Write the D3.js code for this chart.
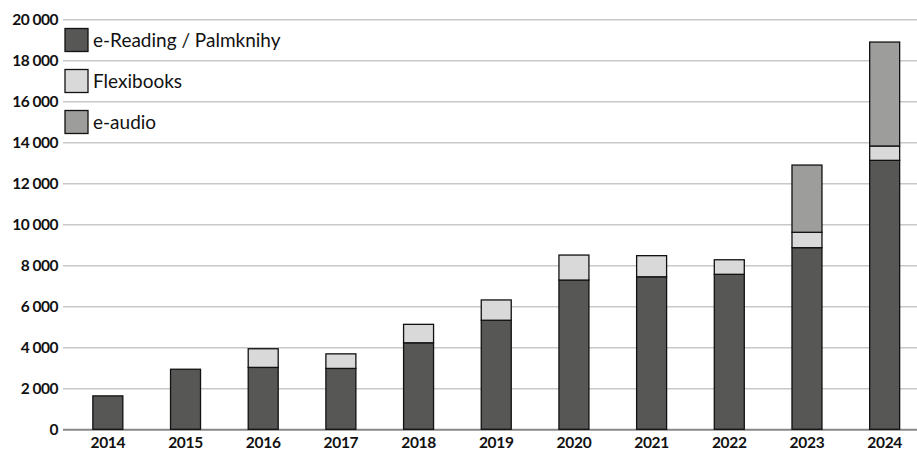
<!DOCTYPE html>
<html>
<head>
<meta charset="utf-8">
<script src="https://cdn.jsdelivr.net/npm/d3@7"></script>
<style>
  body { margin: 0; background: #fff; }
  svg { display: block; font-family: Lato, sans-serif; }
</style>
</head>
<body>
<script>
// data
var years = ["2014", "2015", "2016", "2017", "2018", "2019", "2020", "2021", "2022", "2023", "2024"];
var eReading = [1630, 2930, 3020, 2970, 4220, 5320, 7280, 7440, 7560, 8860, 13120];
var flexibooks = [0, 0, 910, 710, 900, 990, 1220, 1030, 710, 750, 700];
var eAudio = [0, 0, 0, 0, 0, 0, 0, 0, 0, 3280, 5070];
var seriesNames = ["e-Reading / Palmknihy", "Flexibooks", "e-audio"];
var seriesColors = ["#575755", "#d9d9d9", "#9d9d9b"];
var yTicks = [0, 2000, 4000, 6000, 8000, 10000, 12000, 14000, 16000, 18000, 20000];

var width = 917, height = 451;

var svg = d3.select("body").append("svg")
    .attr("width", width)
    .attr("height", height);

var x = d3.scaleBand()
    .domain(years)
    .range([69, 923.5])
    .paddingInner(0.614)
    .paddingOuter(0.307);

var y = d3.scaleLinear()
    .domain([0, 20000])
    .range([429.3, 19.3]);

var fmt = function(v) {
    return d3.format(",")(v).replace(/,/g, " ");
};

// grid lines + y labels
var yAxis = svg.append("g")
    .attr("transform", "translate(63,0)")
    .call(d3.axisLeft(y).tickValues(yTicks).tickFormat(fmt).tickSize(0).tickPadding(5));
yAxis.select(".domain").remove();
yAxis.selectAll("text")
    .attr("font-family", "Lato, sans-serif")
    .attr("font-size", 15.5)
    .attr("font-weight", "bold")
    .attr("letter-spacing", "-0.5")
    .attr("fill", "#111");
yAxis.selectAll(".tick").append("line")
    .attr("x1", 0)
    .attr("x2", width - 63)
    .attr("stroke", function(d) { return d === 0 ? "#888" : "#c8c8c8"; })
    .attr("stroke-width", function(d) { return d === 0 ? 2 : 1.5; });

// stack
var rows = years.map(function(yr, i) {
    return { year: yr, a: eReading[i], b: flexibooks[i], c: eAudio[i] };
});
var stack = d3.stack().keys(["a", "b", "c"]);
var layers = stack(rows);

svg.append("g").selectAll("g")
    .data(layers)
    .join("g")
    .attr("fill", function(d, i) { return seriesColors[i]; })
    .selectAll("rect")
    .data(function(d) { return d.filter(function(p) { return p[1] > p[0]; }); })
    .join("rect")
    .attr("x", function(d) { return x(d.data.year); })
    .attr("width", x.bandwidth())
    .attr("y", function(d) { return y(d[1]); })
    .attr("height", function(d) { return y(d[0]) - y(d[1]); })
    .attr("stroke", "#111")
    .attr("stroke-width", 1.3);

// x labels
var xAxis = svg.append("g")
    .attr("transform", "translate(0,430)")
    .call(d3.axisBottom(x).tickSize(0).tickPadding(7));
xAxis.select(".domain").remove();
xAxis.selectAll("text")
    .attr("font-family", "Lato, sans-serif")
    .attr("font-size", 15.5)
    .attr("font-weight", "bold")
    .attr("letter-spacing", "-0.3")
    .attr("fill", "#111");

// legend
var legend = svg.append("g").selectAll("g")
    .data(seriesNames)
    .join("g")
    .attr("transform", function(d, i) { return "translate(65," + (28.5 + i * 41) + ")"; });
legend.append("rect")
    .attr("width", 23)
    .attr("height", 23)
    .attr("fill", function(d, i) { return seriesColors[i]; })
    .attr("stroke", "#111")
    .attr("stroke-width", 1.3);
legend.append("text")
    .attr("x", 28)
    .attr("y", 18)
    .attr("font-size", 19)
    .attr("fill", "#111")
    .text(function(d) { return d; });
</script>
</body>
</html>
